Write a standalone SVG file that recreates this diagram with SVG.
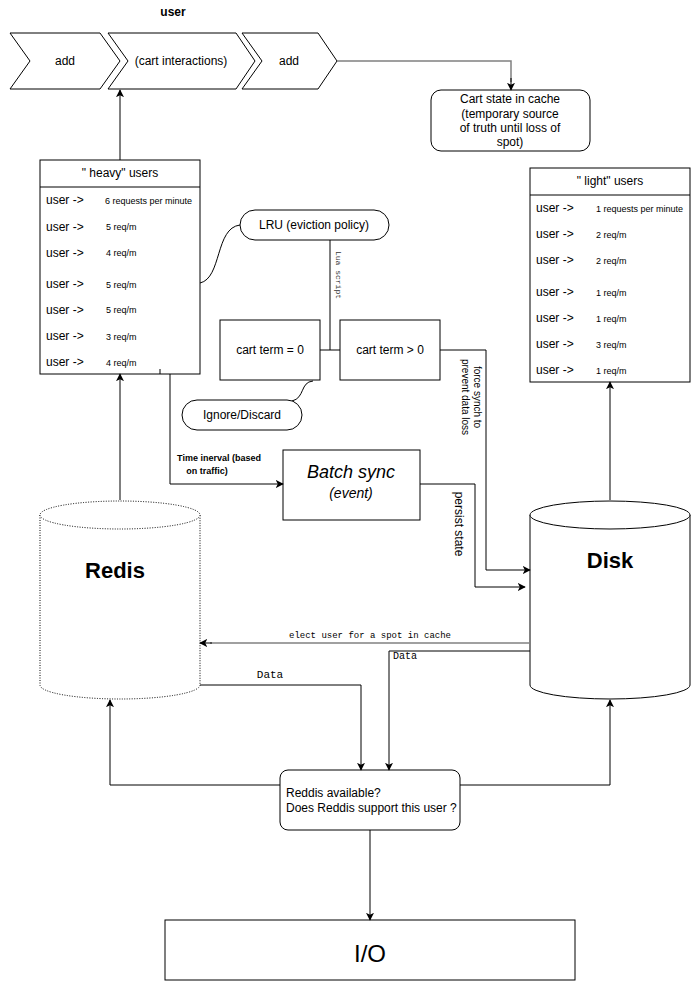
<svg xmlns="http://www.w3.org/2000/svg" width="691" height="981" viewBox="0 0 691 981">
<defs>
<marker id="ah" viewBox="0 0 10 10" refX="9" refY="5" markerWidth="8" markerHeight="8" markerUnits="userSpaceOnUse" orient="auto">
<path d="M0,0 L10,5 L0,10 L2.5,5 Z" fill="#000"/>
</marker>
<style>
text{font-family:"Liberation Sans",Arial,sans-serif;fill:#000}
.s{fill:#fff;stroke:#000;stroke-width:1}
.c{fill:none;stroke:#000;stroke-width:1}
.g{fill:none;stroke:#808080;stroke-width:1.5}
.m{font-family:"Liberation Mono","DejaVu Sans Mono",monospace}
.u{font-size:12px}
.v{font-size:9px}
.ctr{text-anchor:middle;dominant-baseline:central}
.l{dominant-baseline:central}
</style>
</defs>
<rect width="691" height="981" fill="#fff"/>

<text x="173" y="12" class="ctr" font-size="12" font-weight="bold">user</text>

<g id="chev1"><polygon class="s" points="10,33 100,33 120,61 100,89 10,89 30,61"/><text x="65" y="61" class="ctr u">add</text></g>
<g id="chev2"><polygon class="s" points="108,33 236,33 255,61 236,89 108,89 128,61"/><text x="181" y="61" class="ctr u">(cart interactions)</text></g>
<g id="chev3"><polygon class="s" points="242,33 318,33 337,61 318,89 242,89 262,61"/><text x="289" y="61" class="ctr u">add</text></g>

<g id="cartstate"><rect class="s" x="431" y="90" width="159" height="61" rx="10"/>
<text class="ctr u" x="510" y="99">Cart state in cache</text>
<text class="ctr u" x="510" y="114">(temporary source</text>
<text class="ctr u" x="510" y="128">of truth until loss of</text>
<text class="ctr u" x="510" y="142">spot)</text></g>

<g id="heavy"><rect class="s" x="40" y="160" width="160" height="214"/>
<line class="c" x1="40" y1="187" x2="200" y2="187"/>
<text class="ctr u" x="120" y="173">" heavy" users</text>
<g class="u"><text x="46" y="200" class="l">user -&gt;</text><text x="46" y="227" class="l">user -&gt;</text><text x="46" y="253" class="l">user -&gt;</text><text x="46" y="284" class="l">user -&gt;</text><text x="46" y="310" class="l">user -&gt;</text><text x="46" y="336" class="l">user -&gt;</text><text x="46" y="362" class="l">user -&gt;</text></g>
<g class="v"><text x="105" y="201" class="l">6 requests per minute</text><text x="106" y="227" class="l">5 req/m</text><text x="106" y="253" class="l">4 req/m</text><text x="106" y="285" class="l">5 req/m</text><text x="106" y="310" class="l">5 req/m</text><text x="106" y="337" class="l">3 req/m</text><text x="106" y="363" class="l">4 req/m</text></g>
<line class="c" x1="160" y1="369" x2="160" y2="374"/></g>

<g id="light"><rect class="s" x="530" y="168" width="160" height="214"/>
<line class="c" x1="530" y1="195" x2="690" y2="195"/>
<text class="ctr u" x="610" y="181">" light" users</text>
<g class="u"><text x="536" y="208" class="l">user -&gt;</text><text x="536" y="234" class="l">user -&gt;</text><text x="536" y="260" class="l">user -&gt;</text><text x="536" y="292" class="l">user -&gt;</text><text x="536" y="318" class="l">user -&gt;</text><text x="536" y="344" class="l">user -&gt;</text><text x="536" y="370" class="l">user -&gt;</text></g>
<g class="v"><text x="596" y="209" class="l">1 requests per minute</text><text x="596" y="235" class="l">2 req/m</text><text x="596" y="261" class="l">2 req/m</text><text x="596" y="293" class="l">1 req/m</text><text x="596" y="319" class="l">1 req/m</text><text x="596" y="345" class="l">3 req/m</text><text x="596" y="371" class="l">1 req/m</text></g></g>

<g id="lru"><rect class="s" x="240" y="210" width="149" height="30" rx="15"/><text class="ctr u" x="314" y="225">LRU (eviction policy)</text></g>
<g id="term0"><rect class="s" x="220" y="320" width="100" height="60"/><text class="ctr u" x="270" y="350">cart term = 0</text></g>
<g id="termgt"><rect class="s" x="340" y="320" width="100" height="60"/><text class="ctr u" x="390" y="350">cart term &gt; 0</text></g>
<g id="ignore"><rect class="s" x="182" y="400" width="120" height="30" rx="15"/><text class="ctr u" x="242" y="415">Ignore/Discard</text></g>
<g id="batch"><rect class="s" x="283" y="450" width="137" height="70"/>
<text class="ctr" x="351" y="472" font-size="18" font-style="italic">Batch sync</text>
<text class="ctr" x="351" y="493" font-size="14" font-style="italic">(event)</text></g>

<g id="redis">
<path d="M40,515 L40,685 A80,14 0 0 0 200,685 L200,515" fill="#fff" stroke="#000" stroke-dasharray="1,1.5"/>
<ellipse cx="120" cy="515" rx="80" ry="14" fill="#fff" stroke="#000" stroke-dasharray="1,1.5"/>
<text class="ctr" x="115" y="570" font-size="22" font-weight="bold">Redis</text></g>

<g id="disk">
<path d="M530,515 L530,685 A80,14 0 0 0 690,685 L690,515" fill="#fff" stroke="#000"/>
<ellipse cx="610" cy="515" rx="80" ry="14" fill="#fff" stroke="#000"/>
<text class="ctr" x="610" y="560" font-size="22" font-weight="bold">Disk</text></g>

<g id="decision"><rect class="s" x="280" y="770" width="180" height="60" rx="8"/>
<text class="u l" x="286" y="793">Reddis available?</text>
<text class="u l" x="286" y="808">Does Reddis support this user ?</text></g>

<g id="io"><rect class="s" x="165" y="920" width="410" height="60"/><text class="ctr" x="370" y="953" font-size="24">I/O</text></g>

<g id="connectors">
<polyline class="g" points="337,61 511,61 511,82"/>
<line class="c" x1="511" y1="78" x2="511" y2="90" marker-end="url(#ah)"/>
<line class="c" x1="120" y1="160" x2="120" y2="90" marker-end="url(#ah)"/>
<path class="c" d="M200,283 C222,278 215,228 240,225"/>
<line class="c" x1="330" y1="240" x2="330" y2="350"/>
<line class="c" x1="320" y1="350" x2="340" y2="350"/>
<path class="c" d="M313,381 C300,382 305,398 292,401"/>
<polyline class="c" points="440,350 486,350 486,570 530,570" marker-end="url(#ah)"/>
<polyline class="c" points="170,374 170,484 283,484" marker-end="url(#ah)"/>
<polyline class="c" points="420,484 475,484 475,587 525,587" marker-end="url(#ah)"/>
<line class="c" x1="120" y1="500" x2="120" y2="374" marker-end="url(#ah)"/>
<line class="c" x1="610" y1="500" x2="610" y2="382" marker-end="url(#ah)"/>
<line class="g" x1="530" y1="643" x2="210" y2="643"/>
<line class="c" x1="212" y1="643" x2="200" y2="643" marker-end="url(#ah)"/>
<polyline class="c" points="530,651 389,651 389,770" marker-end="url(#ah)"/>
<polyline class="c" points="200,685 361,685 361,770" marker-end="url(#ah)"/>
<polyline class="c" points="280,785 110,785 110,700" marker-end="url(#ah)"/>
<polyline class="c" points="460,785 610,785 610,700" marker-end="url(#ah)"/>
<line class="c" x1="370" y1="830" x2="370" y2="920" marker-end="url(#ah)"/>

<text class="m ctr" font-size="8" fill="#333" transform="translate(338,275) rotate(90)" style="fill:#333">Lua  script</text>
<text class="ctr" font-size="10" transform="translate(477,397) rotate(90)">force synch to</text>
<text class="ctr" font-size="10" transform="translate(465,397) rotate(90)">prevent data loss</text>
<text class="ctr" font-size="12" transform="translate(459,524) rotate(90)">persist state</text>
<text class="ctr" font-size="9" font-weight="bold" x="219" y="458">Time inerval (based</text>
<text class="ctr" font-size="9" font-weight="bold" x="207" y="471">on traffic)</text>
<text class="m ctr" font-size="9" x="370" y="636">elect user for a spot in cache</text>
<text class="m l" font-size="10" x="393" y="656">Data</text>
<text class="m ctr" font-size="11" x="270" y="675">Data</text>
</g>
</svg>
